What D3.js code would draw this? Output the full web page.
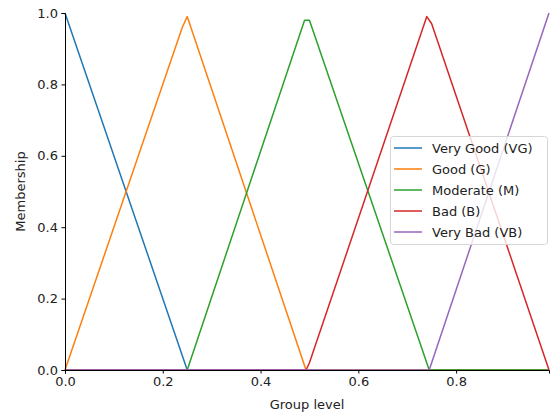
<!DOCTYPE html>
<html><head><meta charset="utf-8">
<script src="https://cdn.jsdelivr.net/npm/d3@7"></script>
<style>body{margin:0;background:#fff;} text{font-family:"DejaVu Sans",sans-serif;}</style>
</head><body><svg id="c" width="552" height="415"></svg>
<script>
const seriesNames = ["Very Good (VG)", "Good (G)", "Moderate (M)", "Bad (B)", "Very Bad (VB)"];
const colors = ["#1f77b4", "#ff7f0e", "#2ca02c", "#d62728", "#9467bd"];
// breakpoints [x, membership]
const vgPts = [[0,1],[0.25,0],[0.99,0]];
const gPts = [[0,0],[0.24,0.96],[0.25,0.99],[0.493,0],[0.99,0]];
const mPts = [[0,0],[0.25,0],[0.49,0.98],[0.50,0.98],[0.745,0],[0.99,0]];
const bPts = [[0,0],[0.493,0],[0.50,0.02],[0.74,0.99],[0.75,0.97],[0.99,0]];
const vbPts = [[0,0],[0.745,0],[0.99,1]];
const seriesData = [vgPts, gPts, mPts, bPts, vbPts];
const xTicks = [0,0.2,0.4,0.6,0.8];
const yTicks = [0,0.2,0.4,0.6,0.8,1.0];

const svg = d3.select("#c");
const L=65, R=549, T=13, B=370;
const x = d3.scaleLinear().domain([0,0.99]).range([L,R]);
const y = d3.scaleLinear().domain([0,1]).range([B,T]);

const line = d3.line().x(d=>x(d[0])).y(d=>y(d[1]));
seriesData.forEach((s,i)=>{
  svg.append("path").datum(s).attr("d",line).attr("fill","none")
    .attr("stroke",colors[i]).attr("stroke-width",1.5).attr("stroke-linejoin","round");
});

const xa = svg.append("g").attr("transform",`translate(0,${B})`)
  .call(d3.axisBottom(x).tickValues(xTicks).tickFormat(d3.format(".1f")).tickSizeOuter(0).tickSize(3.5).tickPadding(3.5));
const ya = svg.append("g").attr("transform",`translate(${L},0)`)
  .call(d3.axisLeft(y).tickValues(yTicks).tickFormat(d3.format(".1f")).tickSizeOuter(0).tickSize(3.5).tickPadding(3.5));
[xa,ya].forEach(a=>{
  a.selectAll("text").attr("font-size",13).attr("fill","#222").attr("font-family","DejaVu Sans");
  a.select(".domain").attr("stroke","#000").attr("stroke-width",1);
  a.selectAll(".tick line").attr("stroke","#000");
});

svg.append("text").attr("x",(L+R)/2).attr("y",409).attr("text-anchor","middle")
  .attr("font-size",13).attr("fill","#222").text("Group level");
svg.append("text").attr("transform",`translate(25,${(T+B)/2}) rotate(-90)`).attr("text-anchor","middle")
  .attr("font-size",13).attr("fill","#222").text("Membership");

// legend
const lg = svg.append("g");
lg.append("rect").attr("x",390.5).attr("y",136.5).attr("width",157).attr("height",108).attr("rx",3)
  .attr("fill","rgba(255,255,255,0.8)").attr("stroke","#d6d6d6");
seriesNames.forEach((n,i)=>{
  const yy = 148 + i*21;
  lg.append("line").attr("x1",394).attr("x2",422).attr("y1",yy).attr("y2",yy)
    .attr("stroke",colors[i]).attr("stroke-width",1.5);
  lg.append("text").attr("x",432).attr("y",yy+4.5).attr("font-size",13).attr("fill","#222").text(n);
});
</script></body></html>
